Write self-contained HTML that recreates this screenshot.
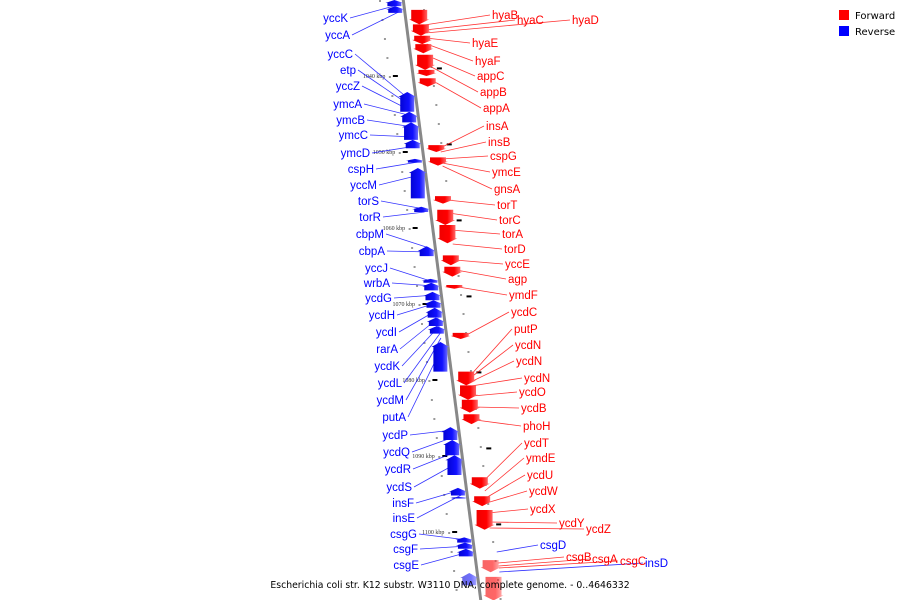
<!DOCTYPE html>
<html><head><meta charset="utf-8">
<style>
body{margin:0;background:#fff;width:900px;height:600px;overflow:hidden}
svg{display:block}
text{font-family:"Liberation Sans","DejaVu Sans",sans-serif}
</style></head><body>
<svg id="chart" width="900" height="600" xmlns="http://www.w3.org/2000/svg">
<defs>
<linearGradient id="gr" x1="0" x2="1"><stop offset="0" stop-color="#e00"/><stop offset="0.6" stop-color="#f00"/><stop offset="1" stop-color="#f88"/></linearGradient>
<linearGradient id="gb" x1="0" x2="1"><stop offset="0" stop-color="#00c"/><stop offset="0.6" stop-color="#11f"/><stop offset="1" stop-color="#88f"/></linearGradient>
</defs>
<g id="ticks"></g>
<line x1="403" y1="-2" x2="481" y2="602" stroke="#888" stroke-width="3"/>
<g id="connectors"></g>
<g id="genes"></g>
<g id="labels"></g>
<g>
<rect x="839" y="10" width="10" height="10" fill="#f00"/>
<text x="855" y="19" font-size="10" fill="#000" style="font-family:'DejaVu Sans',sans-serif">Forward</text>
<rect x="839" y="26" width="10" height="10" fill="#00f"/>
<text x="855" y="35" font-size="10" fill="#000" style="font-family:'DejaVu Sans',sans-serif">Reverse</text>
</g>
<text x="450" y="588" font-size="9.3" text-anchor="middle" fill="#000" style="font-family:'DejaVu Sans',sans-serif">Escherichia coli str. K12 substr. W3110 DNA, complete genome. - 0..4646332</text>
</svg>
<script>
// gene data (kbp)
const geneStrand = ['-','-','-','-','-','-','-','-','-','-','-','-','-','-','-','-','-','-','-','-','-','-','-','-','-','-','-','-',
 '+','+','+','+','+','+','+','+','+','+','+','+','+','+','+','+','+','+','+','+','+','+','+','+','+'];
const geneStart = [1030.0,1030.8,1042.1,1044.7,1046.1,1048.4,1050.9,1052.1,1057.2,1062.4,1066.7,1067.2,1068.4,1069.5,1070.5,1071.8,1072.9,1075.0,1086.2,1087.9,1089.9,1094.2,1095.4,1100.7,1101.4,1102.2,1105.4,1029.0,
 1031.3,1033.2,1034.7,1035.8,1037.2,1039.2,1040.3,1049.1,1050.7,1055.8,1057.6,1059.6,1063.6,1065.1,1067.5,1073.8,1078.9,1080.7,1082.6,1084.5,1092.8,1095.3,1097.1,1103.7,1105.9];
const geneEnd = [1030.8,1031.7,1044.7,1046.1,1048.4,1049.5,1051.4,1056.1,1057.9,1063.7,1067.2,1068.2,1069.5,1070.5,1071.8,1072.9,1073.9,1078.9,1087.9,1089.9,1092.5,1095.2,1095.6,1101.4,1102.2,1103.2,1107.0,1029.8,
 1033.2,1034.7,1035.8,1037.0,1039.2,1040.0,1041.4,1050.0,1051.8,1056.8,1059.6,1062.0,1064.9,1066.4,1068.0,1074.6,1080.7,1082.6,1084.3,1085.8,1094.3,1096.6,1099.7,1105.3,1109.0];
const tickKbp = [1040,1050,1060,1070,1080,1090,1100];
const tickLabels = ['1040 kbp','1050 kbp','1060 kbp','1070 kbp','1080 kbp','1090 kbp','1100 kbp'];
const labelNames = ['yccK','yccA','yccC','etp','yccZ','ymcA','ymcB','ymcC','ymcD','cspH','yccM','torS','torR','cbpM','cbpA','yccJ','wrbA','ycdG','ycdH','ycdI','rarA','ycdK','ycdL','ycdM','putA','ycdP','ycdQ','ycdR','ycdS','insF','insE','csgG','csgF','csgE',
 'hyaB','hyaC','hyaD','hyaE','hyaF','appC','appB','appA','insA','insB','cspG','ymcE','gnsA','torT','torC','torA','torD','yccE','agp','ymdF','ycdC','putP','ycdN','ycdN','ycdN','ycdO','ycdB','phoH','ycdT','ymdE','ycdU','ycdW','ycdX','ycdY','ycdZ','csgD','csgB','csgA','csgC','insD'];
const labelColor = 'bbbbbbbbbbbbbbbbbbbbbbbbbbbbbbbbbbrrrrrrrrrrrrrrrrrrrrrrrrrrrrrrrrrrrbrrrb';
const labelX = [348,350,353,356,360,362,365,368,370,374,377,379,381,384,385,388,390,392,395,397,398,400,402,404,406,408,410,411,412,414,415,417,418,419,
 492,517,572,472,475,477,480,483,486,488,490,492,494,497,499,502,504,505,508,509,511,514,515,516,524,519,521,523,524,526,527,529,530,559,586,540,566,592,620,645];
const labelY = [18,35,54,70,86,104,120,135,153,169,185,201,217,234,251,268,283,298,315,332,349,366,383,400,417,435,452,469,487,503,518,534,549,565,
 15,20,20,43,61,76,92,108,126,142,156,172,189,205,220,234,249,264,279,295,312,329,345,361,378,392,408,426,443,458,475,491,509,523,529,545,557,559,561,563];
const labelTY = [5,12,100,106,111,116,127,137,146,162,175,209,212,248,252,282,286,295,303,310,318,326,333,338,347,430,437,452,463,490,495,540,546,552,
 25,30,33,38,44,56,66,80,148,152,159,163,166,200,213,230,244,260,270,287,336,376,378,382,386,396,407,420,481,491,498,503,513,522,528,552,563,566,568,572];

const L = k => (k - 1030) * 7.6;
const LX = y => 403 + y * 0.13;
const NS = 'http://www.w3.org/2000/svg';
function mk(tag, attrs, parent) {
  const e = document.createElementNS(NS, tag);
  for (const k in attrs) e.setAttribute(k, attrs[k]);
  parent.appendChild(e); return e;
}
const gT = document.getElementById('ticks'), gG = document.getElementById('genes'),
      gC = document.getElementById('connectors'), gL = document.getElementById('labels');

for (let k = 1030; k <= 1109; k += 2.5) {
  const y = L(k), x = LX(y);
  const d1 = mk('rect', {x: x - 24, y: y, width: 2, height: 2, fill: '#999'}, gT);
  
  
  const d2 = mk('rect', {x: x + 20, y: y + 9, width: 2, height: 2, fill: '#999'}, gT);
  
  
}
tickKbp.forEach((k, i) => {
  const y = L(k), x = LX(y);
  const t = mk('rect', {x: x - 20, y: y - 1, width: 5, height: 2, fill: '#000'}, gT);
  
  
  const t2 = mk('rect', {x: x + 24, y: L(k - 1) - 1, width: 5, height: 2, fill: '#000'}, gT);
  
  
  const tl = mk('text', {x: x - 50, y: y + 2, 'font-size': 6, fill: '#333', style: 'font-family:Liberation Serif,serif'}, gT);
  tl.textContent = tickLabels[i];
  
  
});

geneStart.forEach((s, i) => {
  const y0 = L(s), y1 = L(geneEnd[i]);
  const fwd = geneStrand[i] === '+';
  const xm = LX((y0 + y1) / 2);
  const a = fwd ? xm + 6 : xm - 16, b = fwd ? xm + 22 : xm - 2;
  const h = y1 - y0, tip = Math.min(5, h * 0.5);
  let pts;
  if (fwd) pts = [[a, y0], [b, y0], [b, y1 - tip], [b + 2, y1 - tip], [(a + b) / 2, y1], [a - 2, y1 - tip], [a, y1 - tip]];
  else pts = [[(a + b) / 2, y0], [b + 2, y0 + tip], [b, y0 + tip], [b, y1], [a, y1], [a, y0 + tip], [a - 2, y0 + tip]];
  const p = mk('polygon', {points: pts.map(q => q.join(',')).join(' '), fill: fwd ? 'url(#gr)' : 'url(#gb)',
    opacity: (geneEnd[i] > 1105 ? 0.6 : 1)}, gG);
  
  
});

labelNames.forEach((n, i) => {
  const blue = labelColor[i] === 'b';
  const col = blue ? '#00f' : '#f00';
  const left = i < 34;
  const ty = labelTY[i], tx = left ? LX(ty) - 6 : LX(ty) + (i >= 69 ? 22 : 18);
  const lx = left ? labelX[i] + 2 : labelX[i] - 2;
  const ln = mk('line', {x1: lx, y1: labelY[i], x2: tx, y2: ty, stroke: col, 'stroke-width': 0.8, opacity: 0.8}, gC);
  
  
  const t = mk('text', {x: labelX[i], y: labelY[i] + 4, 'font-size': 11.5, fill: col, 'text-anchor': left ? 'end' : 'start'}, gL);
  t.textContent = n;
  
  
});
</script>
</body></html>
